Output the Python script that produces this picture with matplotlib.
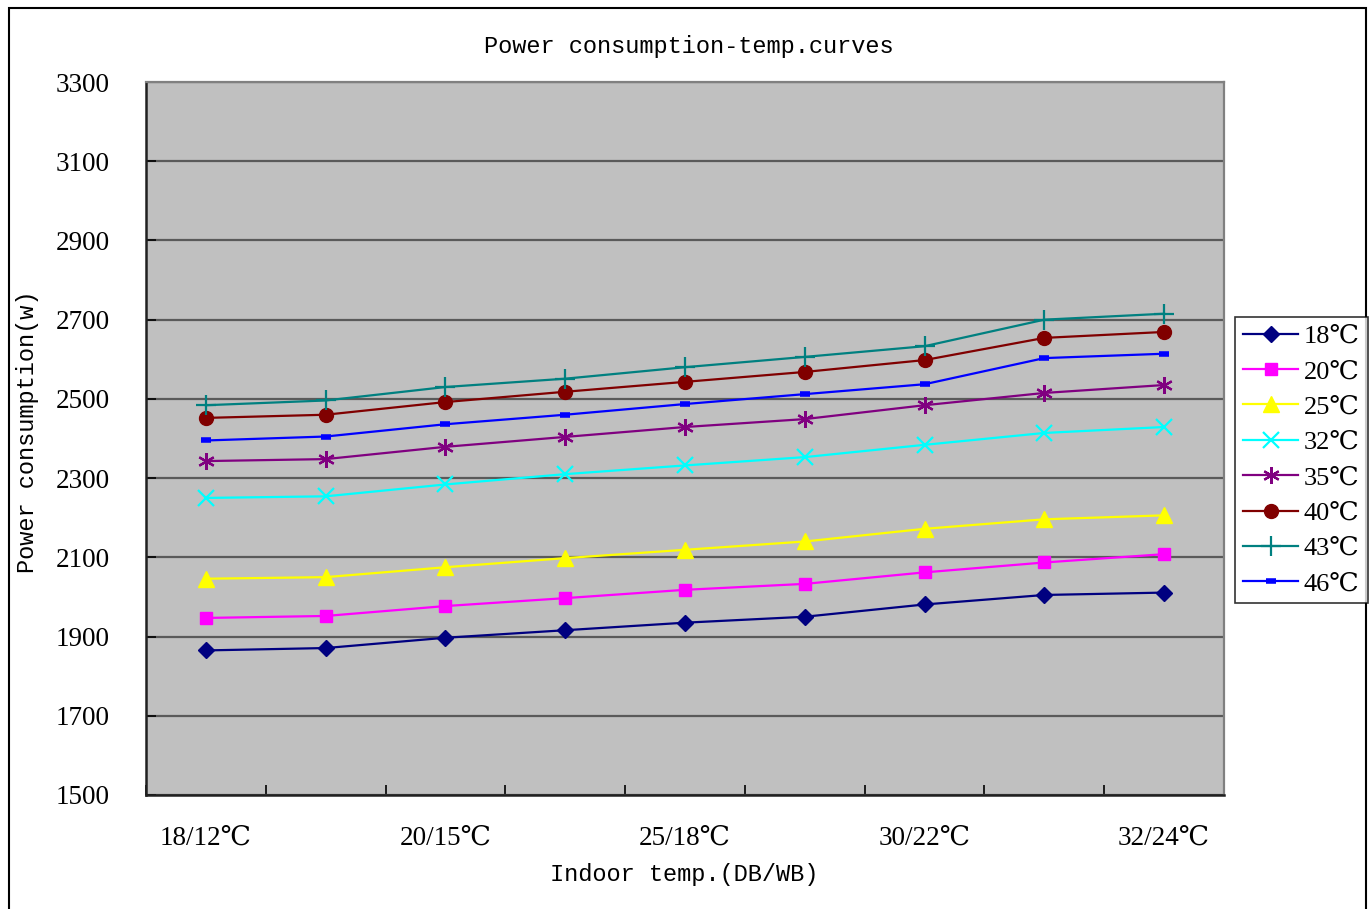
import matplotlib
matplotlib.use("Agg")
import matplotlib.pyplot as plt  # For plotting
from matplotlib.patches import Rectangle
from matplotlib.ticker import FixedLocator

# categories on the x axis (only every second one is labelled)
x_labels = ["18/12℃", "", "20/15℃", "", "25/18℃", "", "30/22℃", "", "32/24℃"]
x_pos = list(range(1, len(x_labels) + 1))

# power consumption (w) per outdoor temperature
series_names = ["18℃", "20℃", "25℃", "32℃", "35℃", "40℃", "43℃", "46℃"]
p18 = [1865, 1871, 1897, 1916, 1935, 1950, 1981, 2005, 2011]
p20 = [1947, 1952, 1977, 1997, 2018, 2033, 2062, 2087, 2108]
p25 = [2046, 2050, 2075, 2098, 2119, 2140, 2172, 2196, 2206]
p32 = [2250, 2254, 2284, 2310, 2332, 2353, 2384, 2414, 2429]
p35 = [2343, 2348, 2379, 2404, 2429, 2449, 2484, 2515, 2535]
p40 = [2452, 2460, 2492, 2518, 2543, 2568, 2598, 2654, 2669]
p43 = [2484, 2496, 2530, 2551, 2580, 2606, 2633, 2700, 2715]
p46 = [2395, 2405, 2436, 2460, 2487, 2512, 2537, 2603, 2614]
y_ticks = [1500, 1700, 1900, 2100, 2300, 2500, 2700, 2900, 3100, 3300]

# style per series: colour, marker, marker size, edge width
styles = [
    ("#000080", "D", 8, 1),
    ("#FF00FF", "s", 9, 1),
    ("#FFFF00", "^", 11, 1),
    ("#00FFFF", "x", 11, 1.6),
    ("#800080", (6, 2, 0), 12, 1.6),
    ("#800000", "o", 10, 1),
    ("#008080", "+", 14, 1.6),
    ("#0000FF", "_", 7, 4),
]
data = [p18, p20, p25, p32, p35, p40, p43, p46]

SERIF = ["Liberation Serif", "DejaVu Serif", "Noto Sans CJK SC"]  # fallback for ℃
MONO = ["Liberation Mono", "DejaVu Sans Mono"]

fig = plt.figure(figsize=(13.72, 9.09), dpi=100)  # Create figure
fig.patch.set_facecolor("white")
# outer frame round the whole chart
fig.add_artist(Rectangle((9 / 1372, -0.01), 1357 / 1372, 1 - 8 / 909 + 0.01,
                         transform=fig.transFigure, fill=False,
                         edgecolor="black", linewidth=1.5))

ax = fig.add_axes([146 / 1372, 1 - 795 / 909, 1078 / 1372, 713 / 909])
ax.set_facecolor("#C0C0C0")

for vals, name, (col, mk, ms, mew) in zip(data, series_names, styles):
    ax.plot(x_pos, vals, color=col, linewidth=1.6, marker=mk, markersize=ms,
            markeredgewidth=mew, markerfacecolor=col, markeredgecolor=col,
            label=name, zorder=3)

ax.set_xlim(0.5, len(x_pos) + 0.5)
ax.set_ylim(1500, 3300)
ax.set_yticks(y_ticks)
ax.set_yticklabels([str(v) for v in y_ticks], family=SERIF, fontsize=19.5)
ax.set_xticks(x_pos)
ax.set_xticklabels(x_labels, family=SERIF, fontsize=19.5)
ax.xaxis.set_minor_locator(FixedLocator([p + 0.5 for p in range(len(x_pos))]))
ax.tick_params(axis="x", which="major", length=0, pad=22)
ax.tick_params(axis="x", which="minor", direction="in", length=7, width=1.2)
ax.tick_params(axis="y", direction="in", length=7, width=1.2, pad=26)
ax.yaxis.grid(True, color="#5A5A5A", linewidth=1.6)
ax.set_axisbelow(True)

for side in ["left", "bottom"]:
    ax.spines[side].set_color("#202020")
    ax.spines[side].set_linewidth(1.8)
for side in ["top", "right"]:
    ax.spines[side].set_color("#808080")
    ax.spines[side].set_linewidth(1.6)

fig.text(689 / 1372, 1 - 47 / 909, "Power consumption-temp.curves",
         ha="center", va="center", family=MONO, fontsize=17)
fig.text(684 / 1372, 1 - 875 / 909, "Indoor temp.(DB/WB)",
         ha="center", va="center", family=MONO, fontsize=17)
fig.text(28 / 1372, 1 - 432 / 909, "Power consumption(w)", rotation=90,
         ha="center", va="center", family=MONO, fontsize=17)

leg = fig.legend(loc="center left", bbox_to_anchor=(1235 / 1372, 1 - 460 / 909),
                 prop={"family": SERIF, "size": 19}, frameon=True, fancybox=False,
                 edgecolor="black", handlelength=2.1, handletextpad=0.2,
                 labelspacing=0.45, borderpad=0.3, borderaxespad=0)
leg.get_frame().set_linewidth(1.2)

fig.savefig("out.png", dpi=100)  # Save figure
